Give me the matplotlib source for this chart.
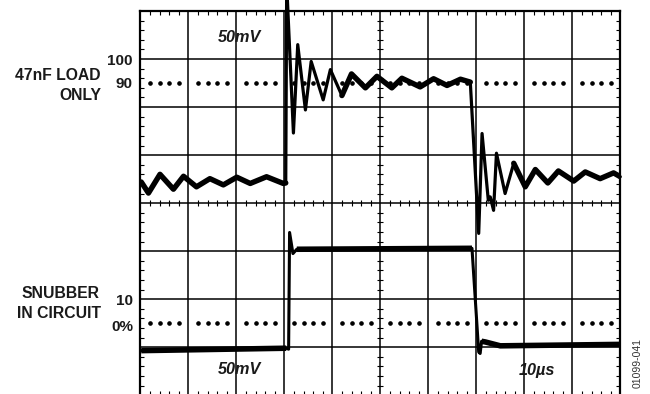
import matplotlib.pyplot as plt

plt.rcParams['font.family'] = ['Liberation Sans', 'DejaVu Sans']

# scope screen: 10 divisions across, 8 divisions tall
# upper trace: 47nF load only (time in div, level in div)
t_load = [0.02, 0.17, 0.41, 0.69, 0.90, 1.17, 1.45, 1.73, 2.01, 2.29, 2.63, 2.98,
          3.03, 3.05, 3.19, 3.28, 3.44, 3.56, 3.81, 3.96, 4.20, 4.40, 4.69, 4.93,
          5.24, 5.45, 5.83, 6.11, 6.39, 6.67, 6.875,
          7.05, 7.12, 7.25, 7.29, 7.36, 7.42, 7.60, 7.78, 8.02, 8.23, 8.49, 8.71,
          9.03, 9.27, 9.58, 9.86, 10.0]
v_load = [4.44, 4.21, 4.60, 4.29, 4.56, 4.34, 4.51, 4.38, 4.54, 4.41, 4.55, 4.41,
          4.42, 8.55, 5.46, 7.30, 5.94, 6.95, 6.15, 6.78, 6.24, 6.69, 6.40, 6.64,
          6.40, 6.60, 6.42, 6.59, 6.45, 6.58, 6.52,
          3.37, 5.45, 4.06, 4.13, 3.85, 5.04, 4.20, 4.83, 4.34, 4.70, 4.42, 4.67,
          4.46, 4.65, 4.51, 4.63, 4.55]

# lower trace: snubber in circuit
t_snub = [0.02, 3.04, 3.09, 3.11, 3.18, 3.26, 6.91, 7.05, 7.08, 7.11, 7.19, 7.50, 10.0]
v_snub = [0.93, 0.98, 0.96, 3.39, 2.95, 3.04, 3.06, 0.90, 0.87, 1.125, 1.11, 1.03, 1.06]

ref_levels = [6.5, 1.5]   # 90% and 10% dotted reference lines

fig = plt.figure(figsize=(6.5, 3.94), dpi=100)
ax = fig.add_axes([140.3 / 650, -1.3 / 394, 480 / 650, 384.3 / 394])
ax.set_xlim(0, 10)
ax.set_ylim(0, 8)

minor_x = [k + f for k in range(10) for f in (0.2, 0.4, 0.6, 0.8)]
minor_y = [k + f for k in range(8) for f in (0.2, 0.4, 0.6, 0.8)]

ax.set_xticks(range(11))
ax.set_yticks(range(9))
ax.set_xticks(minor_x, minor=True)
ax.set_yticks(minor_y, minor=True)
ax.tick_params(which='major', length=0, labelbottom=False, labelleft=False)
ax.tick_params(which='minor', direction='in', length=3.2, width=0.8,
               top=True, bottom=True, left=True, right=True,
               labelbottom=False, labelleft=False)
ax.grid(True, which='major', color='black', lw=1.1)
for s in ax.spines.values():
    s.set_linewidth(1.6)

# centre graticule ticks
ax.plot(minor_x, [4] * len(minor_x), ls='none', marker='|', ms=5, mew=0.8, color='black')
ax.plot([5] * len(minor_y), minor_y, ls='none', marker='_', ms=5, mew=0.8, color='black')

for lvl in ref_levels:
    ax.plot(minor_x, [lvl] * len(minor_x), ls='none', marker='o', ms=2.3, color='black')

# fast edges are drawn thin, slow parts thick (like the scope trace)
ax.plot(t_load, v_load, color='black', lw=2.3, solid_joinstyle='round',
        solid_capstyle='round', clip_on=False, zorder=5)
for a, b in [(0, 13), (20, 31), (38, 48)]:
    ax.plot(t_load[a:b], v_load[a:b], color='black', lw=3.9,
            solid_joinstyle='round', solid_capstyle='round', zorder=5)

ax.plot(t_snub, v_snub, color='black', lw=2.2, solid_joinstyle='round', zorder=5)
for a, b in [(0, 2), (5, 7), (9, 13)]:
    ax.plot(t_snub[a:b], v_snub[a:b], color='black', lw=4.0,
            solid_capstyle='butt', zorder=5)


def ftext(px, py, s, **kw):
    fig.text(px / 650, (394 - py) / 394, s, fontweight='bold', color='#1a1a1a', **kw)


ftext(101, 75, '47nF LOAD', fontsize=11.3, ha='right', va='center')
ftext(101, 96, 'ONLY', fontsize=11.3, ha='right', va='center')
ftext(133, 61, '100', fontsize=11, ha='right', va='center')
ftext(133, 84, '90', fontsize=11, ha='right', va='center')
ftext(100, 294, 'SNUBBER', fontsize=11.3, ha='right', va='center')
ftext(101, 313, 'IN CIRCUIT', fontsize=11.3, ha='right', va='center')
ftext(133, 301, '10', fontsize=11, ha='right', va='center')
ftext(133, 327, '0%', fontsize=11, ha='right', va='center')
ftext(240, 37, '50mV', fontsize=11.7, style='italic', ha='center', va='center')
ftext(240, 370, '50mV', fontsize=11.7, style='italic', ha='center', va='center')
ftext(537, 371, '10µs', fontsize=11.7, style='italic', ha='center', va='center')
fig.text(638 / 650, (394 - 363) / 394, '01099-041', fontsize=7.5, color='#333333',
         rotation=90, ha='center', va='center')

fig.savefig('out.png', dpi=100)
